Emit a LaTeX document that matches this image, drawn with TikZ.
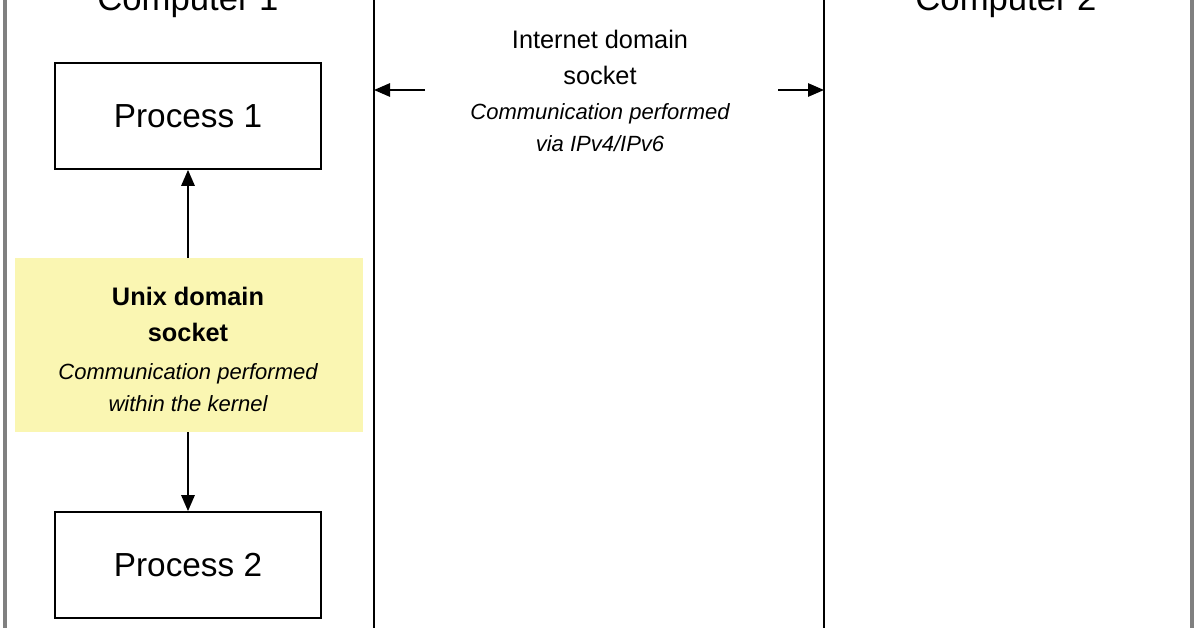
\documentclass[tikz,border=0pt]{standalone}
\usepackage{fontspec}
\setmainfont{Liberation Sans}
\usetikzlibrary{arrows.meta}
\definecolor{ylw}{HTML}{FAF6B2}
\begin{document}
\begin{tikzpicture}[x=0.75pt,y=-0.75pt,
  proc/.style={draw,line width=1.3pt,minimum width=199.5pt,minimum height=79.5pt,font=\fontsize{25}{28}\selectfont},
  arr/.style={-{Triangle[length=12pt,width=10pt]},line width=1.4pt},
  lbl/.style={align=center,font=\fontsize{19}{27}\selectfont}]
\useasboundingbox (0,0) rectangle (1196,628);
\clip (0,0) rectangle (1196,628);
\fill[white] (0,0) rectangle (1196,628);
\draw[gray,line width=2.5pt] (5,-10) -- (5,640);
\draw[gray,line width=2.5pt] (1192,-10) -- (1192,640);
\draw[line width=1.3pt] (374,-10) -- (374,640);
\draw[line width=1.3pt] (824,-10) -- (824,640);
\node[font=\fontsize{26}{30}\selectfont] (c1) at (188,2) {Computer 1};
\node[font=\fontsize{26}{30}\selectfont] (c2) at (1006,2) {Computer 2};
\node[proc] (p1) at (188,116) {Process 1};
\node[proc] (p2) at (188,565) {Process 2};
\node[fill=ylw,minimum width=261pt,minimum height=130.5pt] (u) at (189,345) {};
\node[lbl] (ut) at (188,314) {\textbf{Unix domain}\\\textbf{socket}};
\node[lbl,font=\fontsize{16.5}{24}\selectfont\itshape] (ui) at (188,388) {Communication performed\\within the kernel};
\draw[arr] (u.north -| p1) -- (p1.south);
\draw[arr] (u.south -| p2) -- (p2.north);
\node[lbl] (it) at (600,57) {Internet domain\\socket};
\node[lbl,font=\fontsize{16.5}{24}\selectfont\itshape] (ii) at (600,128) {Communication performed\\via IPv4/IPv6};
\coordinate (la) at (425,90); \coordinate (ra) at (778,90);
\draw[arr] (la) -- (374,90);
\draw[arr] (ra) -- (824,90);
\end{tikzpicture}
\end{document}
